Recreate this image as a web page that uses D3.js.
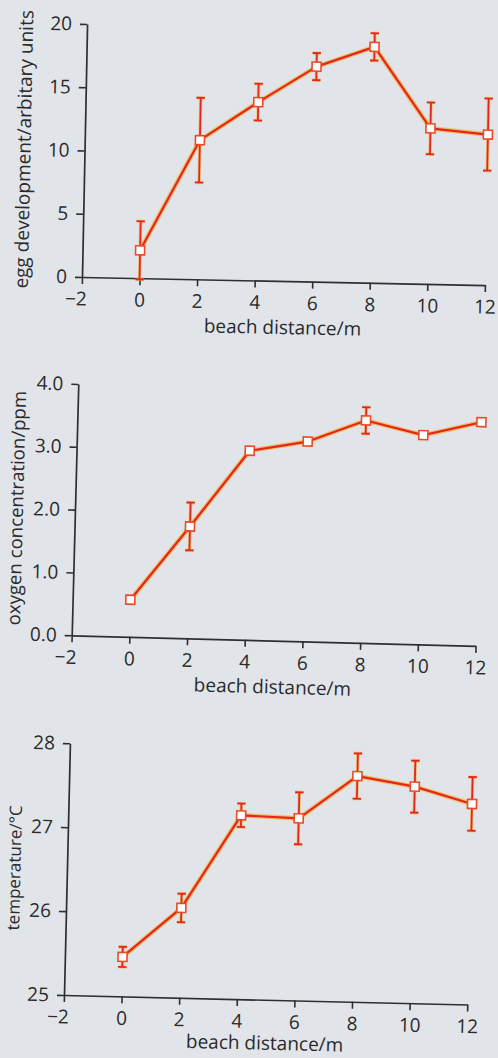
<!DOCTYPE html>
<html>
<head>
<meta charset="utf-8">
<script src="https://cdn.jsdelivr.net/npm/d3@7"></script>
<style>
  html, body { margin: 0; padding: 0; background: #e1e5ea; }
  svg { display: block; }
</style>
</head>
<body>
<svg id="chart" width="498" height="1058"></svg>
<script>
// ---- data ----
const distance = [0, 2, 4, 6, 8, 10, 12];
const xTicks = [-2, 0, 2, 4, 6, 8, 10, 12];

const eggValues = [2.2, 11.0, 14.1, 17.0, 18.65, 12.3, 11.9];
const eggErrors = [2.3, 3.35, 1.45, 1.07, 1.08, 2.05, 2.85];
const eggTicks = [0, 5, 10, 15, 20];

const oxygenValues = [0.59, 1.78, 3.01, 3.18, 3.54, 3.33, 3.56];
const oxygenErrors = [null, 0.38, null, null, 0.21, null, null];
const oxygenTicks = [0, 1, 2, 3, 4];

const tempValues = [25.47, 26.07, 27.19, 27.17, 27.69, 27.58, 27.39];
const tempErrors = [0.12, 0.17, 0.14, 0.31, 0.27, 0.31, 0.32];
const tempTicks = [25, 26, 27, 28];

const xLabel = "beach distance/m";

// ---- layout (photo is slightly rotated) ----
const panels = [
  { values: eggValues, errors: eggErrors, ticks: eggTicks, domain: [0, 20], fmt: d3.format("d"),
    yLabel: "egg development/arbitary units", ox: 82, oy: 277, w: 403, h: 253, angle: 1.15,
    yLabelSize: 19, yLabelX: -54, xLabelY: 53 },
  { values: oxygenValues, errors: oxygenErrors, ticks: oxygenTicks, domain: [0, 4], fmt: d3.format(".1f"),
    yLabel: "oxygen concentration/ppm", ox: 71.7, oy: 635.3, w: 404, h: 251.4, angle: 1.5,
    yLabelSize: 18.6, yLabelX: -52, xLabelY: 53 },
  { values: tempValues, errors: tempErrors, ticks: tempTicks, domain: [25, 28], fmt: d3.format("d"),
    yLabel: "temperature/°C", ox: 64, oy: 995, w: 403.4, h: 251.8, angle: 1.35,
    yLabelSize: 17, yLabelX: -46.5, xLabelY: 50 }
];

const svg = d3.select("#chart");
const FONT = "'Open Sans', 'Noto Sans', sans-serif";
const AXIS = "#2e2e2e";
const RED = "#e3261f";
const HALO = "#f6b13a";

panels.forEach(p => {
  const g = svg.append("g")
    .attr("transform", `translate(${p.ox},${p.oy}) rotate(${p.angle})`);

  const x = d3.scaleLinear().domain([-2, 12]).range([0, p.w]);
  const y = d3.scaleLinear().domain(p.domain).range([0, -p.h]);

  const xa = g.append("g")
    .call(d3.axisBottom(x).tickValues(xTicks).tickSize(7).tickPadding(8).tickSizeOuter(0)
      .tickFormat(d3.format("d")));
  const ya = g.append("g")
    .call(d3.axisLeft(y).tickValues(p.ticks).tickSize(7).tickPadding(8).tickSizeOuter(0)
      .tickFormat(p.fmt));

  [xa, ya].forEach(a => {
    a.attr("font-family", FONT).attr("font-size", 19);
    a.select(".domain").attr("stroke", AXIS).attr("stroke-width", 1.7);
    a.selectAll(".tick line").attr("stroke", AXIS).attr("stroke-width", 1.6);
    a.selectAll(".tick text").attr("fill", "#2a2a2a");
  });
  xa.selectAll(".tick text").filter(d => d < 0).attr("dx", "-0.32em");

  const pts = distance.map((d, i) => ({ x: d, v: p.values[i], e: p.errors[i] }));

  const line = d3.line().x(d => x(d.x)).y(d => y(d.v));

  // line with halo
  g.append("path").datum(pts).attr("d", line)
    .attr("fill", "none").attr("stroke", HALO).attr("stroke-width", 4.6)
    .attr("stroke-opacity", 0.75).attr("stroke-linejoin", "round");
  g.append("path").datum(pts).attr("d", line)
    .attr("fill", "none").attr("stroke", RED).attr("stroke-width", 2.2)
    .attr("stroke-linejoin", "round");

  // error bars
  const eb = g.append("g").selectAll("g").data(pts.filter(d => d.e != null)).join("g");
  const cap = 4.2;
  [[HALO, 3.4, 0.6], [RED, 1.8, 1]].forEach(([col, sw, op]) => {
    eb.append("line")
      .attr("x1", d => x(d.x)).attr("x2", d => x(d.x))
      .attr("y1", d => y(d.v - d.e)).attr("y2", d => y(d.v + d.e))
      .attr("stroke", col).attr("stroke-width", sw).attr("stroke-opacity", op);
    eb.append("line")
      .attr("x1", d => x(d.x) - cap).attr("x2", d => x(d.x) + cap)
      .attr("y1", d => y(d.v + d.e)).attr("y2", d => y(d.v + d.e))
      .attr("stroke", col).attr("stroke-width", sw).attr("stroke-opacity", op);
    eb.append("line")
      .attr("x1", d => x(d.x) - cap).attr("x2", d => x(d.x) + cap)
      .attr("y1", d => y(d.v - d.e)).attr("y2", d => y(d.v - d.e))
      .attr("stroke", col).attr("stroke-width", sw).attr("stroke-opacity", op);
  });

  // markers
  const s = 9;
  g.append("g").selectAll("rect").data(pts).join("rect")
    .attr("x", d => x(d.x) - s / 2).attr("y", d => y(d.v) - s / 2)
    .attr("width", s).attr("height", s)
    .attr("fill", "#ffffff").attr("stroke", "#ea4a25").attr("stroke-width", 1.6);

  // axis titles
  g.append("text")
    .attr("x", p.w / 2).attr("y", p.xLabelY)
    .attr("text-anchor", "middle")
    .attr("font-family", FONT).attr("font-size", 19).attr("fill", "#2a2a2a")
    .text(xLabel);
  g.append("text")
    .attr("transform", `translate(${p.yLabelX},${-p.h / 2}) rotate(-90)`)
    .attr("text-anchor", "middle")
    .attr("font-family", FONT).attr("font-size", p.yLabelSize).attr("fill", "#2a2a2a")
    .text(p.yLabel);
});
</script>
</body>
</html>
